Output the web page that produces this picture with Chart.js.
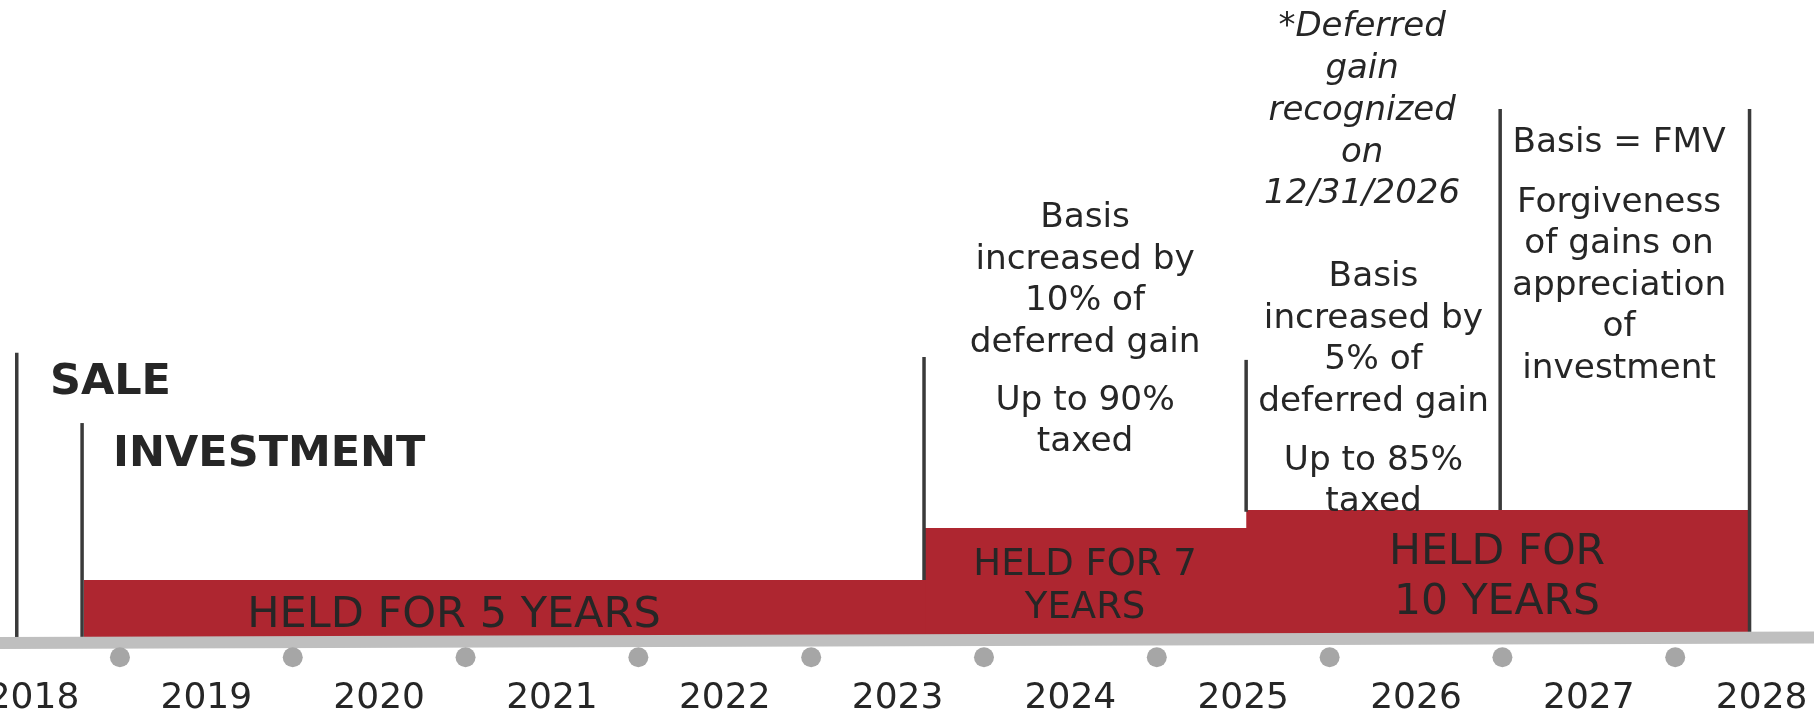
<!DOCTYPE html>
<html>
<head>
<meta charset="utf-8">
<script src="https://cdn.jsdelivr.net/npm/chart.js@4.4.1/dist/chart.umd.min.js"></script>
<style>
  html, body { margin: 0; padding: 0; background: #fff; }
  #wrap { width: 1814px; height: 717px; }
</style>
</head>
<body>
<div id="wrap"><canvas id="chart"></canvas></div>
<script>
// timeline ticks
const years = [2018, 2019, 2020, 2021, 2022, 2023, 2024, 2025, 2026, 2027, 2028];
const yearLabels = ["2018", "2019", "2020", "2021", "2022", "2023", "2024", "2025", "2026", "2027", "2028"];
const dotYears = [2018.5, 2019.5, 2020.5, 2021.5, 2022.5, 2023.5, 2024.5, 2025.5, 2026.5, 2027.5];
const dotLevel = -3;

// holding periods (red steps)
const holdStart = [2018.292, 2023.153, 2025.017];
const holdEnd = [2023.16, 2025.022, 2027.93];
const holdLevel = [9.1, 17.25, 20.07];
const holdBase = -0.5;

// vertical markers
const markerYear = [2017.903, 2018.281, 2023.153, 2025.017, 2026.487, 2027.93];
const markerTop = [44.7, 33.7, 44.05, 43.6, 82.9, 82.9];
const markerBottom = [0, 0, 9.1, 19.8, 20.07, 0];

// grey timeline band
const bandYears = [2017.806, 2028.303];
const bandLevel = [-0.77, 0.09];

// text blocks
const notes = [
  { kind: "head", x: 2018.095, y: 40.05, lines: ["SALE"] },
  { kind: "head", x: 2018.46, y: 28.7, lines: ["INVESTMENT"] },
  { kind: "held5", x: 2020.433, y: 3.55, lines: ["HELD FOR 5 YEARS"] },
  { kind: "held7", x: 2024.085, y: 11.45, lines: ["HELD FOR 7", "YEARS"] },
  { kind: "held10", x: 2026.469, y: 13.3, lines: ["HELD FOR", "10 YEARS"] },
  { kind: "body", x: 2024.085, y: 65.75, lines: ["Basis", "increased by", "10% of", "deferred gain"] },
  { kind: "body", x: 2024.085, y: 37.15, lines: ["Up to 90%", "taxed"] },
  { kind: "body", x: 2025.754, y: 56.5, lines: ["Basis", "increased by", "5% of", "deferred gain"] },
  { kind: "body", x: 2025.754, y: 27.8, lines: ["Up to 85%", "taxed"] },
  { kind: "italic", x: 2025.688, y: 95.7, lines: ["*Deferred", "gain", "recognized", "on", "12/31/2026"] },
  { kind: "body", x: 2027.175, y: 77.5, lines: ["Basis = FMV"] },
  { kind: "body", x: 2027.175, y: 68.25, lines: ["Forgiveness", "of gains on", "appreciation", "of", "investment"] }
];

const FONT = "'DejaVu Sans', Verdana, sans-serif";
const TEXT = "#262626";
const RED = "#AE2630";
const noteStyles = {
  head: { font: "bold 43px " + FONT, align: "left", step: 50 },
  held5: { font: "43px " + FONT, align: "center", step: 50 },
  held7: { font: "37px " + FONT, align: "center", step: 43.5 },
  held10: { font: "42.5px " + FONT, align: "center", step: 49.5 },
  body: { font: "34.3px " + FONT, align: "center", step: 41.5 },
  italic: { font: "italic 34px " + FONT, align: "center", step: 41.75 }
};

const notePlugin = {
  id: "notes",
  afterDatasetsDraw(chart) {
    const { ctx, scales } = chart;
    ctx.save();
    ctx.fillStyle = TEXT;
    ctx.textBaseline = "middle";
    notes.forEach((n) => {
      const st = noteStyles[n.kind];
      ctx.font = st.font;
      ctx.textAlign = st.align;
      const px = scales.x.getPixelForValue(n.x);
      const py = scales.y.getPixelForValue(n.y);
      n.lines.forEach((t, i) => ctx.fillText(t, px, py + i * st.step));
    });
    ctx.restore();
  }
};

const datasets = [];

datasets.push({
  data: dotYears.map((v) => ({ x: v, y: dotLevel })),
  showLine: false,
  pointRadius: 10,
  pointBackgroundColor: "#A6A6A6",
  pointBorderWidth: 0,
  clip: false
});

datasets.push({
  data: bandYears.map((v, i) => ({ x: v, y: bandLevel[i] })),
  borderColor: "#BFBFBF",
  borderWidth: 12,
  pointRadius: 0,
  fill: false
});

markerYear.forEach((v, i) => {
  datasets.push({
    data: [{ x: v, y: markerBottom[i] }, { x: v, y: markerTop[i] }],
    borderColor: "#3A3A3A",
    borderWidth: 3.5,
    pointRadius: 0,
    fill: false
  });
});

holdStart.forEach((v, i) => {
  datasets.push({
    data: [{ x: v, y: holdLevel[i] }, { x: holdEnd[i], y: holdLevel[i] }],
    borderWidth: 0,
    borderColor: RED,
    backgroundColor: RED,
    pointRadius: 0,
    fill: { value: holdBase }
  });
});

new Chart(document.getElementById("chart"), {
  type: "line",
  data: { datasets },
  options: {
    responsive: true,
    maintainAspectRatio: false,
    animation: false,
    events: [],
    layout: { padding: 0, autoPadding: false },
    plugins: { legend: { display: false }, tooltip: { enabled: false }, title: { display: false } },
    scales: {
      x: {
        type: "linear",
        min: 2017.806,
        max: 2028.303,
        grid: { display: false, drawTicks: false },
        border: { display: false },
        ticks: {
          autoSkip: false,
          maxRotation: 0,
          minRotation: 0,
          padding: 7,
          color: TEXT,
          font: { family: FONT, size: 36 },
          callback: (value, index) => yearLabels[index]
        },
        afterBuildTicks: (scale) => {
          scale.ticks = years.map((v) => ({ value: v }));
        },
        afterFit: (scale) => {
          scale.paddingLeft = 0;
          scale.paddingRight = 0;
          scale.height = 47;
        }
      },
      y: {
        type: "linear",
        min: -5,
        max: 100,
        display: false
      }
    }
  },
  plugins: [notePlugin]
});
</script>
</body>
</html>
